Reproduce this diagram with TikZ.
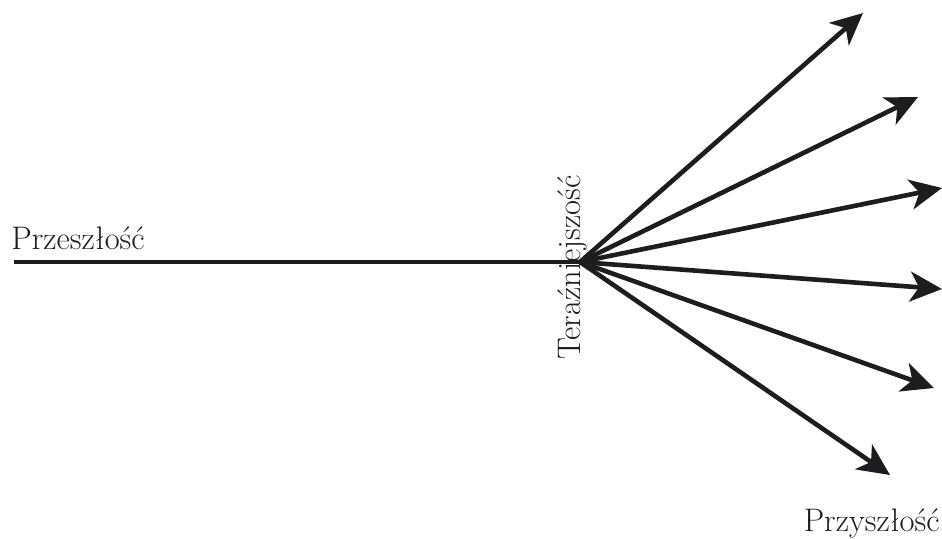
\documentclass[tikz,border=0pt]{standalone}
\usepackage{tikz}
\usetikzlibrary{arrows.meta, positioning}
\definecolor{inkblack}{HTML}{1D1D1F}

\begin{document}
\begin{tikzpicture}[x=0.5pt, y=-0.5pt,
    timeline/.style={draw=inkblack, line width=2.3pt},
    future/.style={timeline, -{Stealth[length=16pt, width=15pt, inset=4.5pt]}},
    label/.style={text=inkblack, inner sep=0pt, font=\fontsize{16.3}{19}\selectfont}]
  \useasboundingbox (0,0) rectangle (942,538);
  \coordinate (past) at (14,262);
  \coordinate (now) at (580,262);
  \coordinate (f1) at (863,13);
  \coordinate (f2) at (918,97);
  \coordinate (f3) at (942,188);
  \coordinate (f4) at (942,289);
  \coordinate (f5) at (934,388);
  \coordinate (f6) at (890,475);
  \draw[timeline] (past) -- (now);
  \draw[future] (now) -- (f1);
  \draw[future] (now) -- (f2);
  \draw[future] (now) -- (f3);
  \draw[future] (now) -- (f4);
  \draw[future] (now) -- (f5);
  \draw[future] (now) -- (f6);
  \node[label, anchor=base west] (pastlabel) at (11,249) {Przeszłość};
  \node[label, anchor=base west, rotate=90] (nowlabel) at (580,360) {Teraźniejszość};
  \node[label, anchor=base east] (futurelabel) at (940,531) {Przyszłość};
\end{tikzpicture}
\end{document}
